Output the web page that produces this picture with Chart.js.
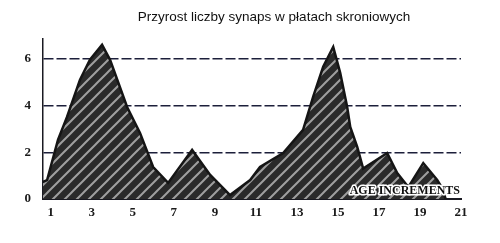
<!DOCTYPE html>
<html>
<head>
<meta charset="utf-8">
<script src="https://cdn.jsdelivr.net/npm/chart.js@4"></script>
<style>
  html, body { margin: 0; padding: 0; background: #fff; }
  #wrap { width: 500px; height: 243px; position: relative; }
</style>
</head>
<body>
<div id="wrap"><canvas id="chart"></canvas></div>
<script>
// dane (przyrost synaps, skala wieku)
const ageX = [0.62, 0.82, 1.35, 1.79, 2.42, 2.91, 3.5, 3.89, 4.72, 5.35, 5.99, 6.72,
  7.89, 8.77, 9.74, 10.72, 11.2, 12.33, 13.3, 13.79, 14.28, 14.77, 15.11, 15.45,
  15.6, 15.94, 16.23, 17.4, 17.89, 18.43, 19.16, 19.84, 20.08, 20.25];
const synapseGain = [0.73, 0.81, 2.53, 3.51, 5.1, 5.96, 6.6, 5.96, 3.94, 2.83, 1.37, 0.69,
  2.1, 1.03, 0.17, 0.81, 1.37, 1.97, 2.96, 4.37, 5.66, 6.51, 5.4, 3.94,
  3.09, 2.23, 1.3, 1.97, 1.11, 0.51, 1.54, 0.81, 0.47, 0];
const xTicks = [1, 3, 5, 7, 9, 11, 13, 15, 17, 19, 21];
const yTicks = [0, 2, 4, 6];
const titleText = "Przyrost liczby synaps w płatach skroniowych";
const axisNote = "AGE INCREMENTS";

const points = ageX.map((x, i) => ({ x: x, y: synapseGain[i] }));

// faktura "skanu" - ciemne tlo z jasnymi smugami
function makeHatch() {
  const c = document.createElement("canvas");
  c.width = 12;
  c.height = 12;
  const g = c.getContext("2d");
  g.fillStyle = "#2a2a2a";
  g.fillRect(0, 0, 12, 12);
  g.strokeStyle = "rgba(255,255,255,0.55)";
  g.lineWidth = 2;
  g.beginPath();
  g.moveTo(-3, 15); g.lineTo(15, -3);
  g.moveTo(-9, 9); g.lineTo(9, -9);
  g.moveTo(3, 21); g.lineTo(21, 3);
  g.stroke();
  return g.createPattern(c, "repeat");
}

// napisy: tytul i podpis osi
const labelsPlugin = {
  id: "labels",
  afterDraw(chart) {
    const ctx = chart.ctx;
    ctx.save();
    ctx.fillStyle = "#111";
    ctx.font = "13.5px 'Liberation Sans', Arial, sans-serif";
    ctx.textAlign = "center";
    ctx.textBaseline = "alphabetic";
    ctx.fillText(titleText, 274, 21);
    ctx.font = "bold 12px 'Liberation Serif', 'Times New Roman', serif";
    ctx.textAlign = "right";
    ctx.strokeStyle = "#fff";
    ctx.lineWidth = 3;
    ctx.lineJoin = "round";
    ctx.strokeText(axisNote, 460, 194);
    ctx.fillText(axisNote, 460, 194);
    ctx.restore();
  }
};

new Chart(document.getElementById("chart"), {
  type: "line",
  data: {
    datasets: [{
      data: points,
      fill: "origin",
      backgroundColor: makeHatch(),
      borderColor: "#151515",
      borderWidth: 2.5,
      pointRadius: 0,
      tension: 0
    }]
  },
  options: {
    responsive: true,
    maintainAspectRatio: false,
    animation: false,
    layout: { padding: { left: 0, right: 39, top: 39, bottom: 14 } },
    plugins: {
      legend: { display: false },
      tooltip: { enabled: false }
    },
    scales: {
      x: {
        type: "linear",
        min: 0.62,
        max: 21,
        afterBuildTicks: (scale) => { scale.ticks = xTicks.map(v => ({ value: v })); },
        afterFit: (scale) => { scale.height = 30; },
        grid: { display: false, drawTicks: false },
        border: { display: true, color: "#1a1a22", width: 2 },
        ticks: {
          padding: 6,
          color: "#1a1a1a",
          font: { family: "'Liberation Serif', 'Times New Roman', serif", size: 13, weight: "bold" }
        }
      },
      y: {
        min: 0,
        max: 6.85,
        afterBuildTicks: (scale) => { scale.ticks = yTicks.map(v => ({ value: v })); },
        afterFit: (scale) => { scale.width = 43; },
        grid: {
          drawTicks: false,
          color: (c) => c.tick && c.tick.value === 0 ? "rgba(0,0,0,0)" : "#1c1f3a",
          lineWidth: 1.5
        },
        // w v4 border.dash kreskuje linie siatki
        border: { display: true, color: "#1a1a22", width: 1.5, dash: [10, 3] },
        ticks: {
          padding: 12,
          color: "#1a1a1a",
          font: { family: "'Liberation Serif', 'Times New Roman', serif", size: 13, weight: "bold" }
        }
      }
    }
  },
  plugins: [labelsPlugin]
});
</script>
</body>
</html>
